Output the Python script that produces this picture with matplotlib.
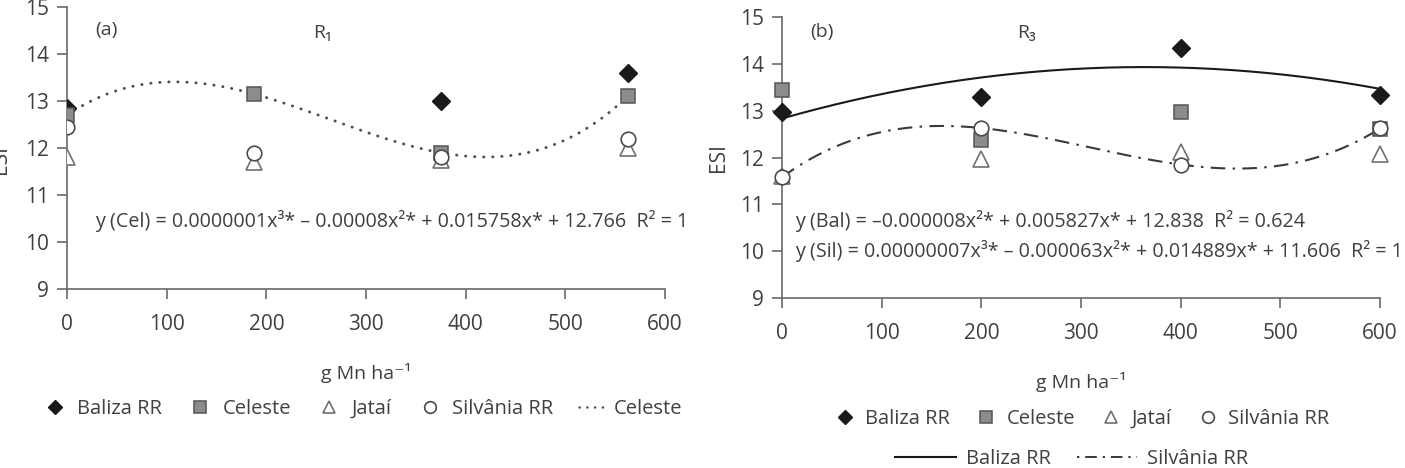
import numpy as np
import matplotlib.pyplot as plt
from matplotlib.lines import Line2D

plt.rcParams['font.family'] = ['Open Sans', 'DejaVu Sans']

# Panel (a): R1  (Baliza at 187.5 is hidden behind the Celeste square)
x_a = [0, 187.5, 375, 562.5]
baliza_a = [12.85, np.nan, 13.0, 13.6]
celeste_a = [12.7, 13.15, 11.9, 13.1]
jatai_a = [11.8, 11.7, 11.75, 12.0]
silvania_a = [12.45, 11.9, 11.8, 12.2]

# Panel (b): R3
x_b = [0, 200, 400, 600]
baliza_b = [12.97, 13.3, 14.33, 13.33]
celeste_b = [13.45, 12.38, 12.97, 12.6]
jatai_b = [11.6, 11.97, 12.12, 12.08]
silvania_b = [11.58, 12.63, 11.85, 12.62]

eq_a = "y (Cel) = 0.0000001x³* – 0.00008x²* + 0.015758x* + 12.766  R² = 1"
eq_b1 = "y (Bal) = –0.000008x²* + 0.005827x* + 12.838  R² = 0.624"
eq_b2 = "y (Sil) = 0.00000007x³* – 0.000063x²* + 0.014889x* + 11.606  R² = 1"

txt = '#404040'
ax_col = '#6a6a6a'
dotted = (0, (0.1, 3.0))
dashdot = (0, (7, 3.5, 1.2, 3.5))

styles = {
    'Baliza RR': dict(marker='D', ms=9, mfc='#1a1a1a', mec='#1a1a1a', mew=1),
    'Celeste': dict(marker='s', ms=10.5, mfc='#8c8c8c', mec='#555555', mew=1.1),
    'Jataí': dict(marker='^', ms=11, mfc='white', mec='#707070', mew=1.2),
    'Silvânia RR': dict(marker='o', ms=10.5, mfc='white', mec='#4a4a4a', mew=1.2),
}

fig = plt.figure(figsize=(14.05, 4.68), dpi=100)
ax1 = fig.add_axes([0.0477, 0.3825, 0.4256, 0.6026])
ax2 = fig.add_axes([0.5566, 0.3632, 0.4256, 0.6004])


def style_axis(ax):
    ax.set_xlim(0, 600)
    ax.set_ylim(9, 15)
    ax.set_xticks(range(0, 601, 100))
    ax.set_yticks(range(9, 16))
    for s in ['top', 'right']:
        ax.spines[s].set_visible(False)
    for s in ['left', 'bottom']:
        ax.spines[s].set_color(ax_col)
        ax.spines[s].set_linewidth(1.2)
    ax.tick_params(direction='out', length=7, width=1.2, color=ax_col,
                   labelcolor=txt, labelsize=15)
    ax.tick_params(axis='x', pad=11)
    ax.tick_params(axis='y', pad=6)
    ax.patch.set_alpha(0)


for ax in (ax1, ax2):
    style_axis(ax)

# panel (a)
xs = np.linspace(0, 562.5, 200)
p_cel = np.polyfit(x_a, celeste_a, 3)
ax1.plot(xs, np.polyval(p_cel, xs), linestyle=dotted, dash_capstyle='round',
         color='#505050', lw=2.1, zorder=1)
for name, vals in zip(styles, [baliza_a, celeste_a, jatai_a, silvania_a]):
    ax1.plot(x_a, vals, linestyle='none', zorder=3, **styles[name])
ax1.text(28, 14.5, "(a)", fontsize=14, color=txt, va='center')
ax1.text(247, 14.45, "R₁", fontsize=14, color=txt, va='center')
ax1.text(28, 10.45, eq_a, fontsize=14.2, color=txt, va='center')
ax1.set_xlabel("g Mn ha⁻¹", fontsize=14, color=txt, labelpad=20)
fig.text(-0.007, 0.66, "ESI", rotation=90, fontsize=15, color=txt, va='center')

# panel (b)
xs = np.linspace(0, 600, 200)
p_bal = np.polyfit(x_b, baliza_b, 2)
p_sil = np.polyfit(x_b, silvania_b, 3)
ax2.plot(xs, np.polyval(p_bal, xs), color='#1a1a1a', lw=1.5, zorder=1)
ax2.plot(xs, np.polyval(p_sil, xs), linestyle=dashdot, color='#3a3a3a', lw=1.5, zorder=1)
for name, vals in zip(styles, [baliza_b, celeste_b, jatai_b, silvania_b]):
    ax2.plot(x_b, vals, linestyle='none', zorder=3, clip_on=False, **styles[name])
ax2.text(28, 14.68, "(b)", fontsize=14, color=txt, va='center')
ax2.text(236, 14.65, "R₃", fontsize=14, color=txt, va='center')
ax2.text(13, 10.64, eq_b1, fontsize=14.2, color=txt, va='center')
ax2.text(13, 10.0, eq_b2, fontsize=14.2, color=txt, va='center')
ax2.set_xlabel("g Mn ha⁻¹", fontsize=14, color=txt, labelpad=20)
ax2.set_ylabel("ESI", fontsize=15, color=txt, labelpad=8)

# legends
def mk(name, ms_scale=0.8):
    st = dict(styles[name])
    st['ms'] = st['ms'] * ms_scale
    return Line2D([], [], linestyle='none', **st)

leg_kw = dict(frameon=False, fontsize=14.5, labelcolor=txt, handletextpad=0.5,
              columnspacing=1.3, loc='center')

h_a = [mk(n) for n in styles] + [Line2D([], [], linestyle=dotted, dash_capstyle='round',
                                       color='#505050', lw=1.8)]
l_a = list(styles) + ['Celeste']
fig.legend(h_a, l_a, ncol=5, bbox_to_anchor=(0.258, 0.126), handlelength=1.2, **leg_kw)

h_b1 = [mk(n) for n in styles]
fig.legend(h_b1, list(styles), ncol=4, bbox_to_anchor=(0.77, 0.105), handlelength=1.0, **leg_kw)
h_b2 = [Line2D([], [], color='#1a1a1a', lw=1.5),
        Line2D([], [], linestyle=(0, (1.2, 3, 6, 3)), color='#3a3a3a', lw=1.4)]
fig.legend(h_b2, ['Baliza RR', 'Silvânia RR'], ncol=2, bbox_to_anchor=(0.763, 0.02),
           handlelength=3.0, **leg_kw)

fig.savefig("out.png", dpi=100)
